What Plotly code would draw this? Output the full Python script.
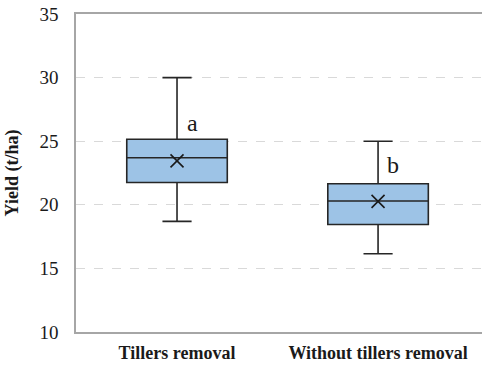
import plotly.graph_objects as go

categories = ["Tillers removal", "Without tillers removal"]
lower_whisker = [18.7, 16.15]
q1 = [21.75, 18.45]
median = [23.7, 20.3]
q3 = [25.15, 21.65]
upper_whisker = [30.0, 25.0]
means = [23.45, 20.27]
letters = ["a", "b"]
letter_y = [26.4, 23.1]

SERIF = "Liberation Serif"
fig = go.Figure()
fig.add_trace(go.Box(
    x=categories, q1=q1, median=median, q3=q3,
    lowerfence=lower_whisker, upperfence=upper_whisker,
    fillcolor="#9DC3E6", line=dict(color="#262626", width=1.6),
    width=0.5, whiskerwidth=0.29, boxpoints=False, showlegend=False,
    hoverinfo="skip",
))
fig.add_trace(go.Scatter(
    x=categories, y=means, mode="markers",
    marker=dict(symbol="x-thin", size=13, line=dict(color="#1a1a1a", width=1.6)),
    showlegend=False, hoverinfo="skip",
))
for c, l, y in zip(categories, letters, letter_y):
    fig.add_annotation(x=c, y=y, text=l, showarrow=False, xshift=15,
                       font=dict(family=SERIF, size=24, color="#1a1a1a"))

fig.update_layout(
    width=482, height=365,
    margin=dict(l=76, r=0, t=14, b=33),
    plot_bgcolor="white", paper_bgcolor="white",
    font=dict(family=SERIF, color="#1a1a1a"),
)
fig.update_xaxes(
    range=[-0.5025, 1.517], showgrid=False, automargin=False,
    showline=True, linecolor="#A6A6A6", linewidth=1.5, mirror=True,
    tickfont=dict(family=SERIF, size=18, color="#1a1a1a", weight="bold"),
    ticks="", ticklabelstandoff=4,
)
fig.update_yaxes(
    range=[10, 35], dtick=5, showgrid=True, gridcolor="#D9D9D9",
    griddash="dash", gridwidth=1, automargin=False,
    showline=True, linecolor="#A6A6A6", linewidth=1.5, mirror=True,
    tickfont=dict(family=SERIF, size=19, color="#1a1a1a"),
    ticks="", ticklabelstandoff=12, zeroline=False,
    title=dict(text="<b>Yield (t/ha)</b>", font=dict(family=SERIF, size=18, color="#1a1a1a"), standoff=16),
)
fig.write_html("out.html")
